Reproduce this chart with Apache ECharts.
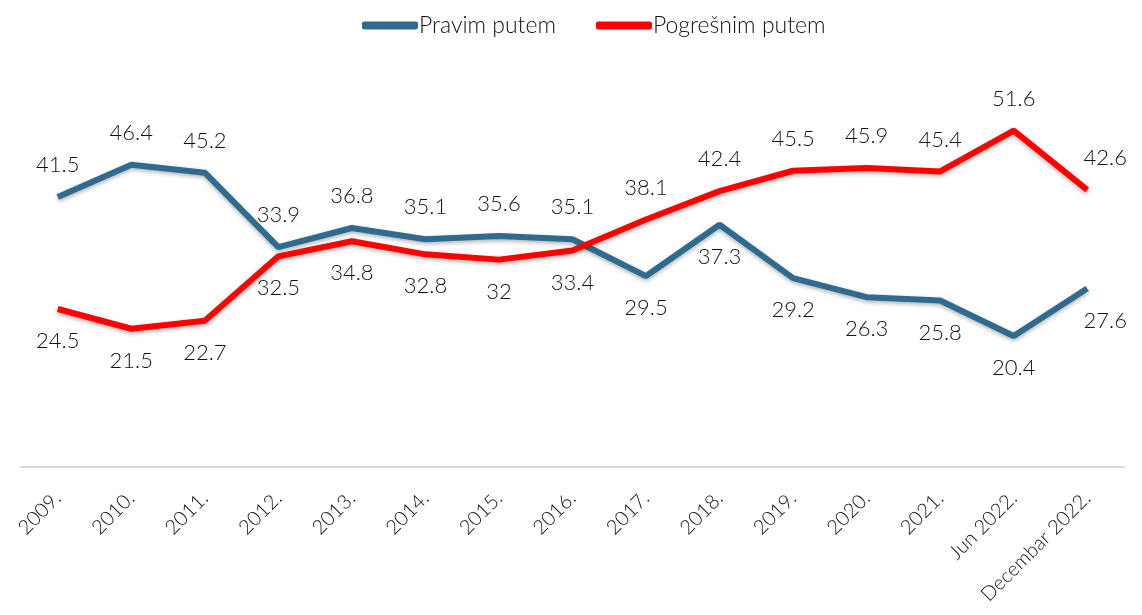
<!DOCTYPE html>
<html>
<head>
<meta charset="utf-8">
<script src="https://cdn.jsdelivr.net/npm/echarts@6/dist/echarts.min.js"></script>
<style>
  html, body { margin: 0; padding: 0; background: #fff; }
  #main { width: 1142px; height: 615px; }
</style>
</head>
<body>
<div id="main"></div>
<script>
var categories = ['2009.', '2010.', '2011.', '2012.', '2013.', '2014.', '2015.', '2016.',
  '2017.', '2018.', '2019.', '2020.', '2021.', 'Jun 2022.', 'Decembar 2022.'];
var pravimPutem = [41.5, 46.4, 45.2, 33.9, 36.8, 35.1, 35.6, 35.1, 29.5, 37.3, 29.2, 26.3, 25.8, 20.4, 27.6];
var pogresnimPutem = [24.5, 21.5, 22.7, 32.5, 34.8, 32.8, 32, 33.4, 38.1, 42.4, 45.5, 45.9, 45.4, 51.6, 42.6];

// label placement per point: 't' above, 'b' below, 'r' = shifted right
var pravimPos = ['t','t','t','t','t','t','t','t','b','b','b','b','b','b','br'];
var pogresnimPos = ['b','b','b','b','b','b','b','b','t','t','t','t','t','t','tr'];

var chartDom = document.getElementById('main');
var myChart = echarts.init(chartDom);

function makeData(values, pos) {
  var out = [];
  for (var i = 0; i < values.length; i++) {
    var p = pos[i];
    var lbl = { position: p.charAt(0) === 't' ? 'top' : 'bottom' };
    if (p.length > 1) lbl.offset = [18, 0];
    out.push({ value: values[i], label: lbl });
  }
  return out;
}

var labelStyle = {
  show: true,
  distance: 21,
  fontFamily: 'Lato',
  fontWeight: 300,
  fontSize: 22,
  color: '#111'
};

var option = {
  animation: false,
  legend: {
    top: 9,
    left: 357,
    itemWidth: 56,
    itemHeight: 8,
    itemGap: 40,
    icon: 'roundRect',
    textStyle: { fontFamily: 'Lato', fontWeight: 300, fontSize: 23, color: '#111', padding: [0, 0, 0, -4] },
    data: ['Pravim putem', 'Pogrešnim putem']
  },
  grid: { left: 21, right: 18, top: 72, bottom: 148 },
  xAxis: {
    type: 'category',
    data: categories,
    boundaryGap: true,
    axisLine: { onZero: false, lineStyle: { color: '#d9d9d9', width: 2 } },
    axisTick: { show: false },
    axisLabel: {
      rotate: 45,
      interval: 0,
      margin: 28,
      fontFamily: 'Lato',
      fontWeight: 300,
      fontSize: 20,
      color: '#111'
    }
  },
  yAxis: {
    type: 'value',
    min: 0.5,
    max: 60.5,
    show: false,
    splitLine: { show: false }
  },
  series: [
    {
      name: 'Pravim putem',
      type: 'line',
      data: makeData(pravimPutem, pravimPos),
      symbol: 'circle',
      symbolSize: 0,
      showSymbol: true,
      color: '#2e6b8f',
      lineStyle: {
        width: 6,
        color: '#2e6b8f',
        shadowColor: 'rgba(0,0,0,0.3)',
        shadowBlur: 4,
        shadowOffsetY: 2
      },
      label: labelStyle
    },
    {
      name: 'Pogrešnim putem',
      type: 'line',
      data: makeData(pogresnimPutem, pogresnimPos),
      symbol: 'circle',
      symbolSize: 0,
      showSymbol: true,
      color: '#ff0000',
      lineStyle: {
        width: 6,
        color: '#ff0000',
        shadowColor: 'rgba(0,0,0,0.3)',
        shadowBlur: 4,
        shadowOffsetY: 2
      },
      label: labelStyle
    }
  ]
};

myChart.setOption(option);
</script>
</body>
</html>
